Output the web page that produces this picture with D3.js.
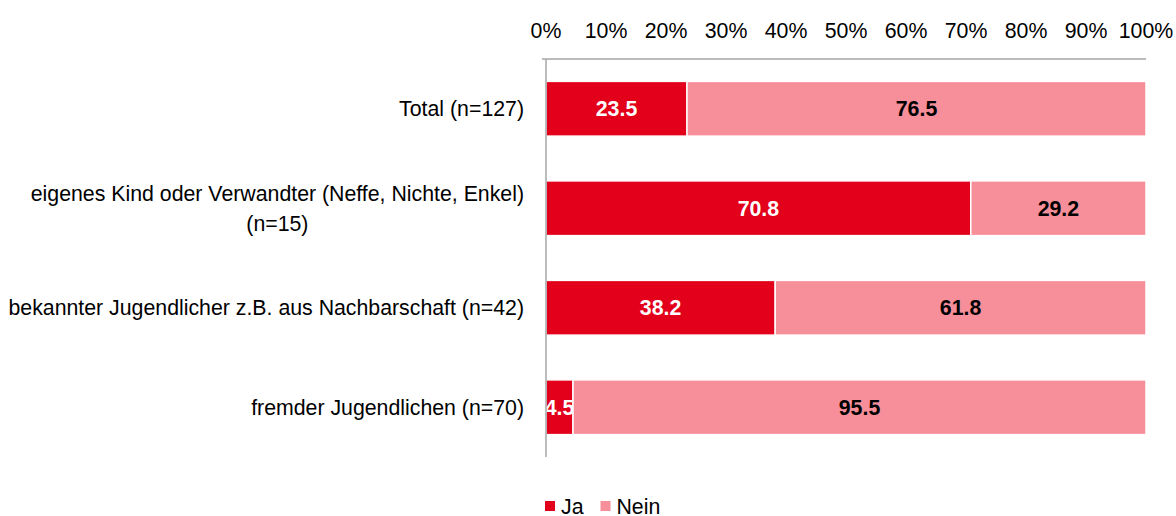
<!DOCTYPE html>
<html lang="de">
<head>
<meta charset="UTF-8">
<title>Ja / Nein</title>
<script src="https://cdn.jsdelivr.net/npm/d3@7"></script>
<style>
    body { margin: 0; background: #fff; }
    svg text { font-family: "Liberation Sans", Arial, sans-serif; }
</style>
</head>
<body>
<svg width="1176" height="516"></svg>
<script>
    // Daten
    var categories = [
        ["Total (n=127)"],
        ["eigenes Kind oder Verwandter (Neffe, Nichte, Enkel)", "(n=15)"],
        ["bekannter Jugendlicher z.B. aus Nachbarschaft (n=42)"],
        ["fremder Jugendlichen (n=70)"]
    ];
    var ja = [23.5, 70.8, 38.2, 4.5];
    var nein = [76.5, 29.2, 61.8, 95.5];
    var seriesNames = ["Ja", "Nein"];
    var colors = ["#e2001a", "#f78f9b"];
    var tickValues = [0, 10, 20, 30, 40, 50, 60, 70, 80, 90, 100];

    var svg = d3.select("svg");
    var pLeft = 546, pRight = 1146, pTop = 59, pBottom = 457;
    var fs = 22;

    // Schmalschrift nachbilden (Arial Narrow gibt es nicht): Text horizontal stauchen
    var probe = svg.append("text").attr("font-size", fs).text(categories[2][0]);
    var sx = 516 / probe.node().getComputedTextLength();
    probe.remove();

    function addText(parent, px, py, str, anchor) {
        return parent.append("text")
            .attr("transform", "translate(" + px + "," + py + ") scale(" + sx + ",1)")
            .attr("text-anchor", anchor || "middle")
            .attr("dy", "0.35em")
            .attr("font-size", fs)
            .attr("fill", "#000")
            .text(str);
    }

    var x = d3.scaleLinear().domain([0, 100]).range([pLeft, pRight]);
    var y = d3.scaleBand().domain(d3.range(categories.length)).range([pTop, pBottom])
        .paddingInner(0.45).paddingOuter(0.225);

    var rows = categories.map(function (c, i) {
        return { i: i, label: c, values: [ja[i], nein[i]] };
    });

    // Achse oben (Beschriftung)
    var gx = svg.append("g");
    tickValues.forEach(function (t) {
        addText(gx, x(t), 30, t + "%");
    });

    // Balken
    var rowG = svg.selectAll("g.row").data(rows).enter().append("g").attr("class", "row");
    rowG.each(function (r) {
        var g = d3.select(this);
        var start = 0;
        r.values.forEach(function (v, k) {
            g.append("rect")
                .attr("x", x(start))
                .attr("y", y(r.i))
                .attr("width", x(start + v) - x(start))
                .attr("height", y.bandwidth())
                .attr("fill", colors[k])
                .attr("stroke", "#fff")
                .attr("stroke-width", 1.5);
            addText(g, x(start + v / 2), y(r.i) + y.bandwidth() / 2, v.toFixed(1))
                .attr("font-weight", "bold")
                .attr("fill", k === 0 ? "#fff" : "#000");
            start += v;
        });

        // Kategorie
        var n = r.label.length;
        var cy = y(r.i) + y.bandwidth() / 2;
        var widths = r.label.map(function (line) {
            var t = addText(g, 0, 0, line);
            var w = t.node().getComputedTextLength() * sx;
            t.remove();
            return w;
        });
        var maxW = d3.max(widths);
        r.label.forEach(function (line, j) {
            addText(g, pLeft - 22 - maxW / 2, cy + (j - (n - 1) / 2) * 30, line);
        });
    });

    // Achsenlinien
    svg.append("line").attr("x1", pLeft - 4).attr("x2", pRight).attr("y1", pTop).attr("y2", pTop)
        .attr("stroke", "#a6a6a6").attr("stroke-width", 1.5);
    svg.append("line").attr("x1", pLeft).attr("x2", pLeft).attr("y1", pTop).attr("y2", pBottom)
        .attr("stroke", "#a6a6a6").attr("stroke-width", 1.5);

    // Legende
    var legend = svg.append("g").attr("transform", "translate(545,506)");
    var lx = 0;
    seriesNames.forEach(function (s, k) {
        legend.append("rect").attr("x", lx).attr("y", -5).attr("width", 10).attr("height", 10).attr("fill", colors[k]);
        var txt = addText(legend, lx + 16, 0, s, "start");
        lx += 16 + txt.node().getComputedTextLength() * sx + 17;
    });
</script>
</body>
</html>
